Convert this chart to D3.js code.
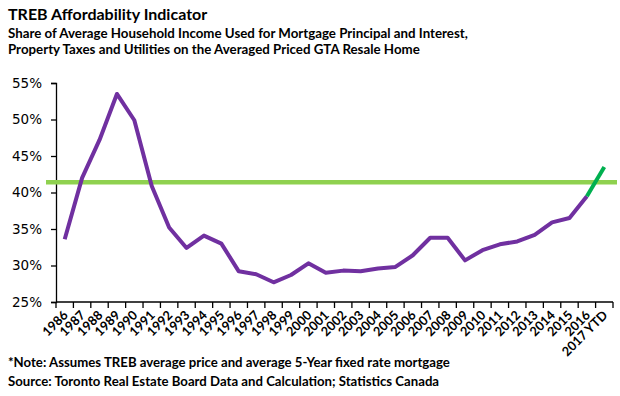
<!DOCTYPE html>
<html lang="en">
<head>
<meta charset="UTF-8">
<title>TREB Affordability Indicator</title>
<script src="https://d3js.org/d3.v7.min.js"></script>
<style>
  body { margin: 0; background: #fff; }
  svg { display: block; }
  .hd { font-family: Lato, "Open Sans", sans-serif; font-weight: bold; fill: #000; }
</style>
</head>
<body>
<div id="chart"></div>
<script>
  // data
  const years = ["1986","1987","1988","1989","1990","1991","1992","1993","1994","1995",
    "1996","1997","1998","1999","2000","2001","2002","2003","2004","2005","2006","2007",
    "2008","2009","2010","2011","2012","2013","2014","2015","2016","2017 YTD"];
  const share = [33.6, 42.0, 47.2, 53.5, 49.9, 40.9, 35.2, 32.4, 34.1, 33.0,
    29.2, 28.8, 27.7, 28.7, 30.3, 29.0, 29.3, 29.2, 29.6, 29.8, 31.4, 33.8,
    33.8, 30.7, 32.1, 32.9, 33.3, 34.2, 35.9, 36.5, 39.5, 43.5];
  const average = 41.4;
  const yTicks = [25, 30, 35, 40, 45, 50, 55];

  const width = 620, height = 396;
  const plotL = 56, plotR = 613, plotT = 83, plotB = 302;

  const svg = d3.select("#chart").append("svg")
    .attr("width", width)
    .attr("height", height);

  const x = d3.scaleBand().domain(years).range([plotL, plotR]).padding(0);
  const y = d3.scaleLinear().domain([25, 55]).range([plotB, plotT]);
  const cx = d => x(d) + x.bandwidth() / 2;

  // titles
  svg.append("text").attr("class", "hd").attr("x", 8).attr("y", 20)
    .style("font-size", "16px").text("TREB Affordability Indicator");
  svg.append("text").attr("class", "hd").attr("x", 8).attr("y", 38)
    .style("font-size", "13.3px")
    .text("Share of Average Household Income Used for Mortgage Principal and Interest,");
  svg.append("text").attr("class", "hd").attr("x", 8).attr("y", 54)
    .style("font-size", "13.3px")
    .text("Property Taxes and Utilities on the Averaged Priced GTA Resale Home");

  // y axis
  const yAxis = svg.append("g")
    .attr("transform", `translate(${plotL},0)`)
    .call(d3.axisLeft(y).tickValues(yTicks).tickSize(5).tickPadding(9)
      .tickFormat(d => d + "%"));
  yAxis.select(".domain").attr("stroke", "#000").attr("stroke-width", 1.3);
  yAxis.selectAll(".tick line").attr("stroke", "#000").attr("stroke-width", 1.3);
  yAxis.selectAll(".tick text")
    .style("font-family", "'DejaVu Sans', Verdana, sans-serif")
    .style("font-size", "13.5px").attr("fill", "#000");

  // x axis: ticks on band edges, labels rotated
  const xAxis = svg.append("g");
  xAxis.append("line")
    .attr("x1", plotL).attr("x2", plotR)
    .attr("y1", plotB).attr("y2", plotB)
    .attr("stroke", "#000").attr("stroke-width", 1.3);
  const edges = years.map(d => x(d)).concat([x.range()[1]]);
  xAxis.selectAll("line.tk").data(edges).enter().append("line")
    .attr("class", "tk")
    .attr("x1", d => d).attr("x2", d => d)
    .attr("y1", plotB).attr("y2", plotB + 6)
    .attr("stroke", "#000").attr("stroke-width", 1.3);
  xAxis.selectAll("text").data(years).enter().append("text")
    .attr("class", "hd")
    .attr("text-anchor", "end")
    .attr("transform", d => `translate(${cx(d) + 4},${plotB + 14}) rotate(-45)`)
    .style("font-size", "12.8px")
    .text(d => d);

  // average line
  svg.append("line")
    .attr("x1", 46).attr("x2", 617)
    .attr("y1", y(average)).attr("y2", y(average))
    .attr("stroke", "#8fd14f").attr("stroke-width", 4.5);

  // series line
  const line = d3.line().x((d, i) => cx(years[i])).y(d => y(d));
  const n = share.length;
  svg.append("path")
    .datum(share.slice(0, n - 1))
    .attr("d", line)
    .attr("fill", "none")
    .attr("stroke", "#7030a0")
    .attr("stroke-width", 4)
    .attr("stroke-linejoin", "round");

  const last = [[cx(years[n - 2]), y(share[n - 2])], [cx(years[n - 1]), y(share[n - 1])]];
  svg.append("path")
    .attr("d", d3.line()(last))
    .attr("fill", "none")
    .attr("stroke", "#00b050")
    .attr("stroke-width", 4);

  // notes
  svg.append("text").attr("class", "hd").attr("x", 8).attr("y", 367)
    .style("font-size", "13.2px")
    .text("*Note: Assumes TREB average price and average 5-Year fixed rate mortgage");
  svg.append("text").attr("class", "hd").attr("x", 8).attr("y", 386)
    .style("font-size", "13.2px")
    .text("Source: Toronto Real Estate Board Data and Calculation; Statistics Canada");
</script>
</body>
</html>
